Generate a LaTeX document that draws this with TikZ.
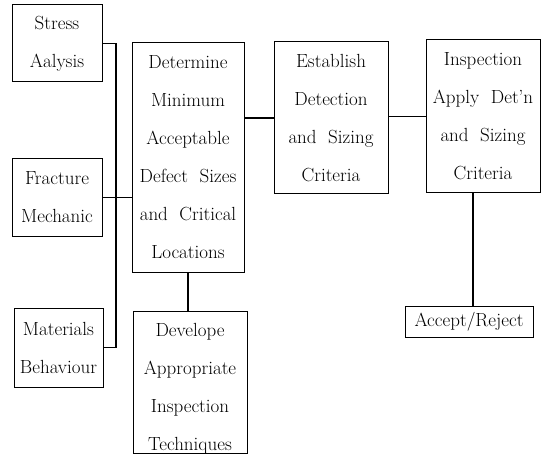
\documentclass[tikz,border=0pt]{standalone}
\begin{document}
\begin{tikzpicture}[x=1pt,y=-1pt,
  txt/.style={inner sep=0pt, align=center, font=\fontsize{19}{38}\selectfont},
  box/.style={txt, draw, line width=1pt},
  link/.style={line width=1.6pt}]
\useasboundingbox (0,0) rectangle (543,465);
\node[box, minimum width=90pt, minimum height=77pt] (stress) at (57,43.5) {Stress\\Aalysis};
\node[box, minimum width=90pt, minimum height=77pt] (fracture) at (57,197.5) {Fracture\\Mechanic};
\node[box, minimum width=89pt, minimum height=79pt] (materials) at (58.5,347.5) {Materials\\Behaviour};
\node[box, minimum width=112pt, minimum height=229pt] (determine) at (188,157.5)
  {Determine\\Minimum\\Acceptable\\Defect\ \ Sizes\\and\ \ Critical\\Locations};
\node[box, minimum width=114pt, minimum height=142pt] (develope) at (190,382) {};
\node[txt] (developetext) at (190,389) {Develope\\Appropriate\\Inspection\\Techniques};
\node[box, minimum width=114pt, minimum height=152pt] (establish) at (331,118)
  {Establish\\Detection\\and\ \ Sizing\\Criteria};
\node[box, minimum width=114pt, minimum height=153pt] (inspection) at (483,116.5)
  {Inspection\\Apply\ \ Det'n\\and\ \ Sizing\\Criteria};
\node[box, minimum width=128pt, minimum height=31pt] (accept) at (469,321.5) {Accept/Reject};
\coordinate (bus) at (116,197.5);
\draw[link] (stress.east) -| (bus);
\draw[link] (bus) |- (materials.east);
\draw[link] (fracture.east) -- (determine.west |- fracture.east);
\draw[link] (determine.east |- establish.west) -- (establish.west);
\draw[link] (establish.east |- inspection.west) -- (inspection.west);
\draw[link] (determine.south) -- (determine.south |- develope.north);
\draw[link] ([xshift=-10pt]inspection.south) -- ([xshift=-10pt]inspection.south |- accept.north);
\end{tikzpicture}
\end{document}
